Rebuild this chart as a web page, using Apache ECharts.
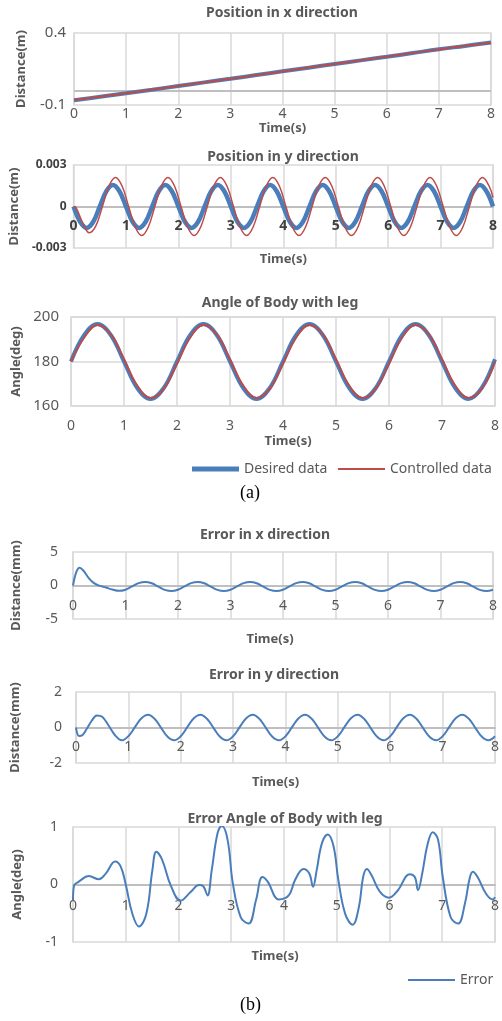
<!DOCTYPE html>
<html>
<head>
<meta charset="utf-8">
<script src="https://cdn.jsdelivr.net/npm/echarts@6/dist/echarts.min.js"></script>
<style>
html, body { margin: 0; padding: 0; background: #fff; }
#container { width: 502px; height: 1021px; }
</style>
</head>
<body>
<div id="container"></div>
<script>
// (a) position in x
var timeX = [0, 0.5, 1, 1.5, 2, 2.5, 3, 3.5, 4, 4.5, 5, 5.5, 6, 6.5, 7, 7.5, 8];
var desiredX = [-0.067, -0.043, -0.019, 0.006, 0.032, 0.057, 0.082, 0.108, 0.134, 0.159, 0.185, 0.21, 0.235, 0.261, 0.287, 0.31, 0.334];
var controlledX = [-0.066, -0.042, -0.019, 0.007, 0.032, 0.058, 0.082, 0.108, 0.133, 0.16, 0.185, 0.21, 0.236, 0.262, 0.286, 0.311, 0.333];

// (a) position in y
var timeY = [0, 0.125, 0.25, 0.375, 0.5, 0.625, 0.75, 0.875,
    1, 1.125, 1.25, 1.375, 1.5, 1.625, 1.75, 1.875,
    2, 2.125, 2.25, 2.375, 2.5, 2.625, 2.75, 2.875,
    3, 3.125, 3.25, 3.375, 3.5, 3.625, 3.75, 3.875,
    4, 4.125, 4.25, 4.375, 4.5, 4.625, 4.75, 4.875,
    5, 5.125, 5.25, 5.375, 5.5, 5.625, 5.75, 5.875,
    6, 6.125, 6.25, 6.375, 6.5, 6.625, 6.75, 6.875,
    7, 7.125, 7.25, 7.375, 7.5, 7.625, 7.75, 7.875, 8];
var desiredY = [0, -0.0011, -0.00155, -0.0011, 0, 0.0011, 0.00155, 0.0011,
    0, -0.0011, -0.00155, -0.0011, 0, 0.0011, 0.00155, 0.0011,
    0, -0.0011, -0.00155, -0.0011, 0, 0.0011, 0.00155, 0.0011,
    0, -0.0011, -0.00155, -0.0011, 0, 0.0011, 0.00155, 0.0011,
    0, -0.0011, -0.00155, -0.0011, 0, 0.0011, 0.00155, 0.0011,
    0, -0.0011, -0.00155, -0.0011, 0, 0.0011, 0.00155, 0.0011,
    0, -0.0011, -0.00155, -0.0011, 0, 0.0011, 0.00155, 0.0011,
    0, -0.0011, -0.00155, -0.0011, 0, 0.0011, 0.00155, 0.0011, 0];
var timeCtrlY = [0, 0.05, 0.175, 0.3, 0.425, 0.55, 0.675, 0.8, 0.925,
    1.05, 1.175, 1.3, 1.425, 1.55, 1.675, 1.8, 1.925,
    2.05, 2.175, 2.3, 2.425, 2.55, 2.675, 2.8, 2.925,
    3.05, 3.175, 3.3, 3.425, 3.55, 3.675, 3.8, 3.925,
    4.05, 4.175, 4.3, 4.425, 4.55, 4.675, 4.8, 4.925,
    5.05, 5.175, 5.3, 5.425, 5.55, 5.675, 5.8, 5.925,
    6.05, 6.175, 6.3, 6.425, 6.55, 6.675, 6.8, 6.925,
    7.05, 7.175, 7.3, 7.425, 7.55, 7.675, 7.8, 7.925, 8];
var controlledY = [0, -0.0001, -0.0012, -0.0019, -0.0014, 0, 0.00148, 0.0021, 0.00148,
    0, -0.00148, -0.0021, -0.00148, 0, 0.00148, 0.0021, 0.00148,
    0, -0.00148, -0.0021, -0.00148, 0, 0.00148, 0.0021, 0.00148,
    0, -0.00148, -0.0021, -0.00148, 0, 0.00148, 0.0021, 0.00148,
    0, -0.00148, -0.0021, -0.00148, 0, 0.00148, 0.0021, 0.00148,
    0, -0.00148, -0.0021, -0.00148, 0, 0.00148, 0.0021, 0.00148,
    0, -0.00148, -0.0021, -0.00148, 0, 0.00148, 0.0021, 0.00148,
    0, -0.00148, -0.0021, -0.00148, 0, 0.00148, 0.0021, 0.00148, 0.00065];

// (a) angle of body with leg
var timeA = [0, 0.25, 0.5, 0.75, 1, 1.25, 1.5, 1.75, 2, 2.25, 2.5, 2.75, 3, 3.25, 3.5, 3.75,
    4, 4.25, 4.5, 4.75, 5, 5.25, 5.5, 5.75, 6, 6.25, 6.5, 6.75, 7, 7.25, 7.5, 7.75, 8];
var desiredA = [180, 191.9, 196.8, 191.9, 180, 168.1, 163.2, 168.1,
    180, 191.9, 196.8, 191.9, 180, 168.1, 163.2, 168.1,
    180, 191.9, 196.8, 191.9, 180, 168.1, 163.2, 168.1,
    180, 191.9, 196.8, 191.9, 180, 168.1, 163.2, 168.1, 181];
var controlledA = [180, 190.8, 196.4, 192.3, 181, 169.2, 163.6, 167.7,
    179, 190.8, 196.4, 192.3, 181, 169.2, 163.6, 167.7,
    179, 190.8, 196.4, 192.3, 181, 169.2, 163.6, 167.7,
    179, 190.8, 196.4, 192.3, 181, 169.2, 163.6, 167.7, 180];

// (b) errors in x and y
var timeErr = [0, 0.06, 0.125, 0.2, 0.3, 0.4, 0.5, 0.625, 0.75, 0.875,
    1, 1.125, 1.25, 1.375, 1.5, 1.625, 1.75, 1.875,
    2, 2.125, 2.25, 2.375, 2.5, 2.625, 2.75, 2.875,
    3, 3.125, 3.25, 3.375, 3.5, 3.625, 3.75, 3.875,
    4, 4.125, 4.25, 4.375, 4.5, 4.625, 4.75, 4.875,
    5, 5.125, 5.25, 5.375, 5.5, 5.625, 5.75, 5.875,
    6, 6.125, 6.25, 6.375, 6.5, 6.625, 6.75, 6.875,
    7, 7.125, 7.25, 7.375, 7.5, 7.625, 7.75, 7.875, 8];
var errorX = [0, 1.95, 2.65, 2.2, 1.1, 0.35, -0.02, -0.3, -0.6, -0.8,
    -0.63, -0.14, 0.35, 0.53, 0.33, -0.17, -0.65, -0.83,
    -0.63, -0.14, 0.35, 0.53, 0.33, -0.17, -0.65, -0.83,
    -0.63, -0.14, 0.35, 0.53, 0.33, -0.17, -0.65, -0.83,
    -0.63, -0.14, 0.35, 0.53, 0.33, -0.17, -0.65, -0.83,
    -0.63, -0.14, 0.35, 0.53, 0.33, -0.17, -0.65, -0.83,
    -0.63, -0.14, 0.35, 0.53, 0.33, -0.17, -0.65, -0.83,
    -0.63, -0.14, 0.35, 0.53, 0.33, -0.17, -0.65, -0.83, -0.63];
var errorY = [0, -0.48, -0.42, -0.1, 0.38, 0.68, 0.6, 0.1, -0.45, -0.72,
    -0.49, 0.02, 0.52, 0.72, 0.49, -0.02, -0.52, -0.72,
    -0.49, 0.02, 0.52, 0.72, 0.49, -0.02, -0.52, -0.72,
    -0.49, 0.02, 0.52, 0.72, 0.49, -0.02, -0.52, -0.72,
    -0.49, 0.02, 0.52, 0.72, 0.49, -0.02, -0.52, -0.72,
    -0.49, 0.02, 0.52, 0.72, 0.49, -0.02, -0.52, -0.72,
    -0.49, 0.02, 0.52, 0.72, 0.49, -0.02, -0.52, -0.72,
    -0.49, 0.02, 0.52, 0.72, 0.49, -0.02, -0.52, -0.72, -0.49];

// (b) error angle
var timeErrA = [0, 0.02, 0.11, 0.3, 0.49, 0.62, 0.8, 0.905, 1.0, 1.125, 1.25, 1.39, 1.505, 1.58, 1.69, 1.85,
    2.04, 2.23, 2.39, 2.47, 2.55, 2.63, 2.74, 2.82, 2.93, 3.03, 3.18, 3.33, 3.47, 3.59, 3.69, 3.9,
    4.09, 4.21, 4.37, 4.48, 4.55, 4.62, 4.72, 4.83, 4.94, 5.03, 5.16, 5.3, 5.42, 5.5, 5.57, 5.66, 5.82, 5.99,
    6.16, 6.38, 6.48, 6.54, 6.62, 6.72, 6.82, 6.92, 7.01, 7.16, 7.3, 7.43, 7.52, 7.58, 7.67, 7.83, 7.96, 8];
var errorA = [-0.27, -0.02, 0.05, 0.146, 0.09, 0.19, 0.40, 0.31, 0, -0.51, -0.73, -0.51, 0.25, 0.57, 0.43, -0.01,
    -0.28, -0.13, -0.01, -0.03, -0.19, 0.25, 0.89, 1.02, 0.78, 0.02, -0.57, -0.68, -0.27, 0.13, 0.05, -0.26,
    -0.19, 0.08, 0.27, 0.19, -0.04, 0.25, 0.72, 0.87, 0.66, 0.08, -0.51, -0.70, -0.39, 0.13, 0.27, 0.16, -0.13, -0.23,
    -0.10, 0.18, 0.13, -0.10, 0.19, 0.69, 0.91, 0.78, 0.13, -0.57, -0.68, -0.33, 0.11, 0.22, 0.13, -0.16, -0.26, -0.22];

var blue = '#4a7ebb';
var red = '#be4b48';
var gridLine = '#d9d9d9';
var zeroLine = '#bfbfbf';
var textGray = '#595959';
var font = 'Noto Sans';

function pairs(xs, ys) {
    return xs.map(function (x, i) { return [x, ys[i]]; });
}

// labels of the zero-crossing axes sit just under the zero line, so margin is negative
function timeAxis(gridIndex, onZero, margin, nameGap, namePad, bold) {
    return {
        type: 'value', gridIndex: gridIndex, min: 0, max: 8, interval: 1,
        name: 'Time(s)', nameLocation: 'middle', nameGap: nameGap,
        nameTextStyle: { color: textGray, fontSize: 13, fontWeight: 'bold', fontFamily: font, padding: namePad },
        axisLine: { show: onZero, onZero: onZero, lineStyle: { color: zeroLine, width: 2 } },
        axisTick: { show: false },
        axisLabel: { margin: margin, color: bold ? '#404040' : textGray, fontSize: 14, fontFamily: font, fontWeight: bold ? 'bold' : 'normal' },
        splitLine: { show: true, lineStyle: { color: gridLine, width: 1.5 } }
    };
}

function valueAxis(gridIndex, name, min, max, interval, margin, nameGap, extra) {
    var axis = {
        type: 'value', gridIndex: gridIndex, min: min, max: max, interval: interval,
        name: name, nameLocation: 'middle', nameGap: nameGap,
        nameTextStyle: { color: textGray, fontSize: 13, fontWeight: 'bold', fontFamily: font },
        axisLine: { show: false },
        axisTick: { show: false },
        axisLabel: { margin: margin, color: textGray, fontSize: 14, fontFamily: font },
        splitLine: { show: false }
    };
    if (extra) {
        Object.keys(extra).forEach(function (k) {
            axis[k] = Object.assign({}, axis[k], extra[k]);
        });
    }
    return axis;
}

function line(name, xi, data, color, width, z) {
    return {
        name: name, type: 'line', xAxisIndex: xi, yAxisIndex: xi,
        data: data, symbol: 'none', smooth: 0.4, z: z,
        lineStyle: { color: color, width: width },
        itemStyle: { color: color }
    };
}

function titleText(text, x, y) {
    return {
        type: 'text', x: x, y: y,
        style: { text: text, fill: textGray, font: 'bold 14px "Noto Sans"', textAlign: 'center', textVerticalAlign: 'middle' }
    };
}

function legendItem(name, left, top, thickness) {
    return {
        left: left, top: top,
        itemWidth: 47, itemHeight: thickness, icon: 'rect',
        textStyle: { color: textGray, fontSize: 14, fontFamily: font },
        data: [name]
    };
}

var dom = document.getElementById('container');
var myChart = echarts.init(dom);

var seriesList = [
    line('Desired data', 0, pairs(timeX, desiredX), blue, 4, 2),
    line('Controlled data', 0, pairs(timeX, controlledX), red, 2, 3),
    line('Desired data', 1, pairs(timeY, desiredY), blue, 4.5, 2),
    line('Controlled data', 1, pairs(timeCtrlY, controlledY), red, 1.5, 3),
    line('Desired data', 2, pairs(timeA, desiredA), blue, 4, 2),
    line('Controlled data', 2, pairs(timeA, controlledA), red, 2, 3),
    line('Error', 3, pairs(timeErr, errorX), blue, 2, 2),
    line('Error', 4, pairs(timeErr, errorY), blue, 2, 2),
    line('Error', 5, pairs(timeErrA, errorA), blue, 2, 2)
];
seriesList[0].markLine = {
    silent: true, symbol: 'none', z: 1,
    label: { show: false },
    lineStyle: { color: zeroLine, width: 2, type: 'solid' },
    data: [{ yAxis: 0 }]
};

var gridStyle = { show: true, borderColor: gridLine, borderWidth: 1.5 };

var option = {
    backgroundColor: '#fff',
    animation: false,
    grid: [
        Object.assign({ left: 74, top: 33, width: 417, height: 72 }, gridStyle),
        Object.assign({ left: 72, top: 165, width: 421, height: 83 }, gridStyle),
        Object.assign({ left: 71, top: 317, width: 425, height: 89 }, gridStyle),
        Object.assign({ left: 73, top: 552, width: 420, height: 67 }, gridStyle),
        Object.assign({ left: 76, top: 692, width: 421, height: 71 }, gridStyle),
        Object.assign({ left: 73, top: 827, width: 425, height: 115 }, gridStyle)
    ],
    xAxis: [
        timeAxis(0, false, 2, 16, 0),
        timeAxis(1, true, -29, 5, 0, true),
        timeAxis(2, false, 13, 29, [0, 0, 0, 10]),
        timeAxis(3, true, -20, 14, [0, 26, 0, 0]),
        timeAxis(4, true, -23, 13, [0, 20, 0, 0]),
        timeAxis(5, true, -43, 8, [0, 18, 0, 0])
    ],
    yAxis: [
        valueAxis(0, 'Distance(m)', -0.1, 0.4, 0.5, 8, 46, { axisLabel: { customValues: [-0.1, 0.4], fontSize: 15 } }),
        valueAxis(1, 'Distance(m)', -0.003, 0.003, 0.003, 7, 48, { axisLabel: { fontSize: 12, fontWeight: 'bold', color: '#404040' } }),
        valueAxis(2, 'Angle(deg)', 160, 200, 20, 12, 46, { splitLine: { show: true, lineStyle: { color: gridLine, width: 1.5 } }, axisLabel: { fontSize: 15 } }),
        valueAxis(3, 'Distance(mm)', -5, 5, 5, 15, 50),
        valueAxis(4, 'Distance(mm)', -2, 2, 2, 14, 54),
        valueAxis(5, 'Angle(deg)', -1, 1, 1, 15, 49)
    ],
    legend: [
        legendItem('Desired data', 187, 457, 5),
        legendItem('Controlled data', 333, 457, 2),
        legendItem('Error', 403, 968, 2)
    ],
    graphic: [
        titleText('Position in x direction', 282, 13),
        titleText('Position in y direction', 283, 157),
        titleText('Angle of Body with leg', 280, 303),
        titleText('Error in x direction', 265, 535),
        titleText('Error in y direction', 274, 675),
        titleText('Error Angle of Body with leg', 285, 819),
        { type: 'text', left: 240, top: 484, style: { text: '(a)', fill: '#000', font: '18px "Liberation Serif"' } },
        { type: 'text', left: 240, top: 996, style: { text: '(b)', fill: '#000', font: '18px "Liberation Serif"' } }
    ],
    series: seriesList
};

if (option && typeof option === 'object') {
    myChart.setOption(option, true);
}
</script>
</body>
</html>
